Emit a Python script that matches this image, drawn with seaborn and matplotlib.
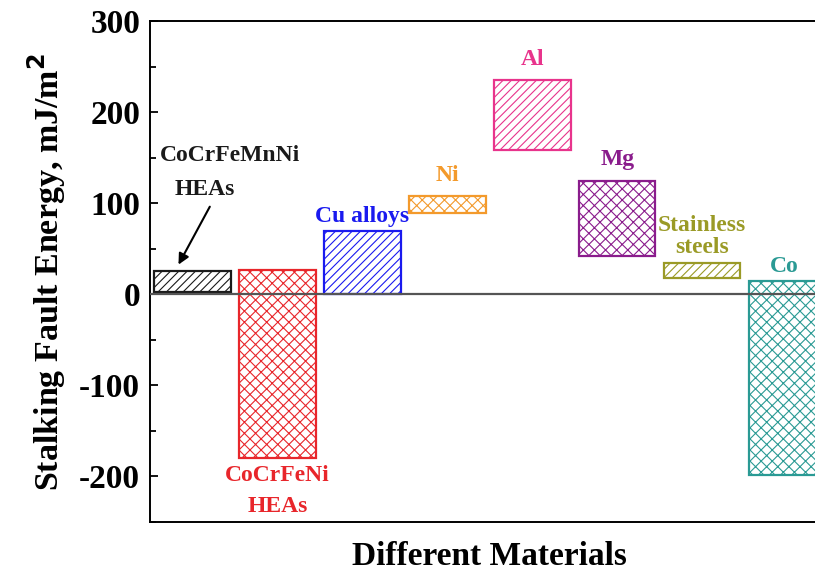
import numpy as np
import pandas as pd
import matplotlib
matplotlib.use("Agg")
import matplotlib.pyplot as plt
from matplotlib.ticker import MultipleLocator
import seaborn as sns

# Range of stacking fault energy per material group (mJ/m^2)
materials = ["CoCrFeMnNi HEAs", "CoCrFeNi HEAs", "Cu alloys", "Ni", "Al",
             "Mg", "Stainless steels", "Co"]
sfe_low = [3, -180, 0, 89, 159, 42, 18, -198]
sfe_high = [26, 27, 70, 108, 235, 124, 34, 15]
colors = ["#1a1a1a", "#e8262b", "#1a1aef", "#f39a2c", "#e8348c",
          "#8a1c8c", "#9a9a26", "#2a9a94"]
hatches = ["////", "xxx", "////", "xxx", "////", "xxx", "////", "xxx"]

# label text, x offset from bar centre, y position
label_text = ["CoCrFeMnNi", "HEAs", "CoCrFeNi", "HEAs", "Cu alloys", "Ni", "Al",
              "Mg", "Stainless", "steels", "Co"]
label_bar = [0, 0, 1, 1, 2, 3, 4, 5, 6, 6, 7]
label_dx = [0.44, 0.14, 0.0, 0.0, 0.0, 0.0, 0.0, 0.0, 0.0, 0.0, -0.04]
label_y = [152, 115, -199, -233, 86, 131, 258, 148, 76, 52, 31]

df = pd.DataFrame({"material": materials, "low": sfe_low, "high": sfe_high})
df["span"] = df["high"] - df["low"]

sns.set_style("ticks")
plt.rcParams["font.family"] = ["Liberation Serif", "DejaVu Serif"]
plt.rcParams["font.weight"] = "bold"
plt.rcParams["hatch.linewidth"] = 0.8
plt.rcParams["axes.unicode_minus"] = False
plt.rcParams["text.color"] = "black"
plt.rcParams["axes.labelcolor"] = "black"
plt.rcParams["ytick.color"] = "black"

fig = plt.figure(figsize=(8.15, 5.74), dpi=100)
ax = fig.add_axes([0.184, 0.0906, 0.834, 0.8724])

sns.barplot(data=df, x="material", y="span", width=0.9, ax=ax,
            color="white", saturation=1)

# move each bar to start at its lower value, then style it
for i, patch in enumerate(ax.patches):
    patch.set_y(sfe_low[i])
    patch.set_facecolor("none")
    patch.set_edgecolor(colors[i])
    patch.set_hatch(hatches[i])
    patch.set_linewidth(1.6)

ax.axhline(0, color="#555555", lw=1.6, zorder=5)

for txt, b, dx, y in zip(label_text, label_bar, label_dx, label_y):
    ax.text(b + dx, y, txt, color=colors[b], ha="center", va="center",
            fontsize=17, fontweight="bold")

ax.annotate("", xy=(-0.18, 30), xytext=(0.22, 99),
            arrowprops=dict(arrowstyle="-|>", color="black", lw=1.5,
                            mutation_scale=16))

ax.set_xlim(-0.5, 7.5)
ax.set_ylim(-250, 300)
ax.set_xticks([])
ax.yaxis.set_major_locator(MultipleLocator(100))
ax.yaxis.set_minor_locator(MultipleLocator(50))
ax.tick_params(axis="y", which="major", direction="in", length=6, width=1.3,
               labelsize=24, pad=7)
ax.tick_params(axis="y", which="minor", direction="in", length=4.5, width=1.3)
for lab in ax.get_yticklabels():
    lab.set_fontweight("bold")
for s in ax.spines.values():
    s.set_linewidth(1.4)
    s.set_color("black")
    s.set_visible(True)

ax.set_xlabel("Different Materials", fontsize=24, fontweight="bold", labelpad=14)
ax.set_ylabel("Stalking Fault Energy, mJ/m$^\\mathbf{2}$", fontsize=24.5,
              fontweight="bold", labelpad=8)

fig.savefig("out.png", dpi=100)
